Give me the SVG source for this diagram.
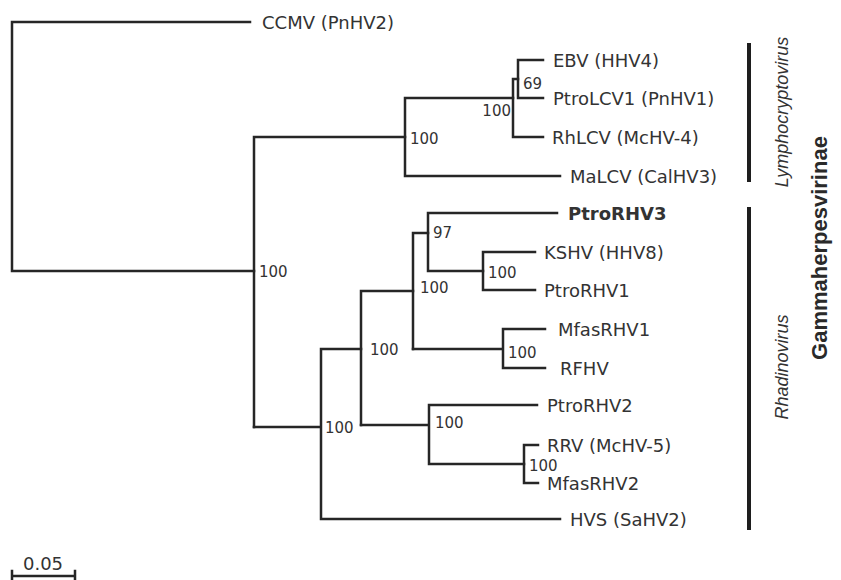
<svg xmlns="http://www.w3.org/2000/svg" width="841" height="580" viewBox="0 0 841 580">
<style>
.br{fill:none;stroke:#262626;stroke-width:2.5;stroke-linecap:square}
.bar{fill:none;stroke:#1e1e1e;stroke-width:4}
.lf{font-family:"DejaVu Sans","Liberation Sans",sans-serif;font-size:18px;fill:#333}
.bs{font-family:"DejaVu Sans","Liberation Sans",sans-serif;font-size:15px;fill:#333}
.gn{font-family:"Liberation Sans",Arial,sans-serif;font-size:18px;font-style:italic;fill:#333}
.sf{font-family:"Liberation Sans",Arial,sans-serif;font-size:22px;font-weight:bold;fill:#2a2a2a}
</style>
<rect width="841" height="580" fill="#fff"/>
<g id="connectors">
<path class="br" d="M12,22V271M12,22H250M12,271H254"/>
<path class="br" d="M254,137V427M254,137H405"/>
<path class="br" d="M405,98V176M405,176H560M405,98H513"/>
<path class="br" d="M513,79V137M513,137H543M513,79H518"/>
<path class="br" d="M518,60V98M518,60H543M518,98H543"/>
<path class="br" d="M254,427H321M321,349V519M321,519H560M321,349H361"/>
<path class="br" d="M361,291V425M361,291H413"/>
<path class="br" d="M413,233V349M413,233H428"/>
<path class="br" d="M428,213V271M428,213H557M428,271H483"/>
<path class="br" d="M483,252V290M483,252H535M483,290H535"/>
<path class="br" d="M413,349H503M503,329V368M503,329H545M503,368H545"/>
<path class="br" d="M361,425H429M429,405V464M429,405H537M429,464H524"/>
<path class="br" d="M524,445V483M524,445H538M524,483H538"/>
</g>
<g id="bootstrap">
<text class="bs" x="259" y="276.5">100</text>
<text class="bs" x="410" y="143.5">100</text>
<text class="bs" x="511" y="115.5" text-anchor="end">100</text>
<text class="bs" x="523" y="88.5">69</text>
<text class="bs" x="433" y="237.5">97</text>
<text class="bs" x="420" y="292.5">100</text>
<text class="bs" x="488" y="277.5">100</text>
<text class="bs" x="508" y="357.5">100</text>
<text class="bs" x="370" y="354.5">100</text>
<text class="bs" x="325" y="432.5">100</text>
<text class="bs" x="435" y="427.5">100</text>
<text class="bs" x="529" y="470.5">100</text>
</g>
<g id="ccmv"><text class="lf" x="262" y="28.5">CCMV (PnHV2)</text></g>
<g id="ebv"><text class="lf" x="553" y="66.5">EBV (HHV4)</text></g>
<g id="ptrolcv1"><text class="lf" x="553" y="104.5">PtroLCV1 (PnHV1)</text></g>
<g id="rhlcv"><text class="lf" x="552" y="143.5">RhLCV (McHV-4)</text></g>
<g id="malcv"><text class="lf" x="570" y="182.5">MaLCV (CalHV3)</text></g>
<g id="ptrorhv3"><text class="lf" x="568" y="219.5" font-weight="bold" fill="#111">PtroRHV3</text></g>
<g id="kshv"><text class="lf" x="544" y="258.5">KSHV (HHV8)</text></g>
<g id="ptrorhv1"><text class="lf" x="544" y="296.5">PtroRHV1</text></g>
<g id="mfasrhv1"><text class="lf" x="558" y="335.5">MfasRHV1</text></g>
<g id="rfhv"><text class="lf" x="560" y="374.5">RFHV</text></g>
<g id="ptrorhv2"><text class="lf" x="547" y="411.5">PtroRHV2</text></g>
<g id="rrv"><text class="lf" x="547" y="451.5">RRV (McHV-5)</text></g>
<g id="mfasrhv2"><text class="lf" x="547" y="489.5">MfasRHV2</text></g>
<g id="hvs"><text class="lf" x="570" y="525.5">HVS (SaHV2)</text></g>
<g id="lymphocryptovirus">
<path class="bar" d="M749,43V182"/>
<text class="gn" transform="translate(788,112) rotate(-90)" text-anchor="middle">Lymphocryptovirus</text>
</g>
<g id="rhadinovirus">
<path class="bar" d="M749,207V530"/>
<text class="gn" transform="translate(788,367) rotate(-90)" text-anchor="middle">Rhadinovirus</text>
</g>
<g id="gammaherpesvirinae">
<text class="sf" transform="translate(827,248) rotate(-90)" text-anchor="middle">Gammaherpesvirinae</text>
</g>
<g id="scale">
<path class="br" d="M12,576H75M12,571V580M75,571V580"/>
<text class="lf" x="43" y="570" text-anchor="middle" font-size="19">0.05</text>
</g>
</svg>
